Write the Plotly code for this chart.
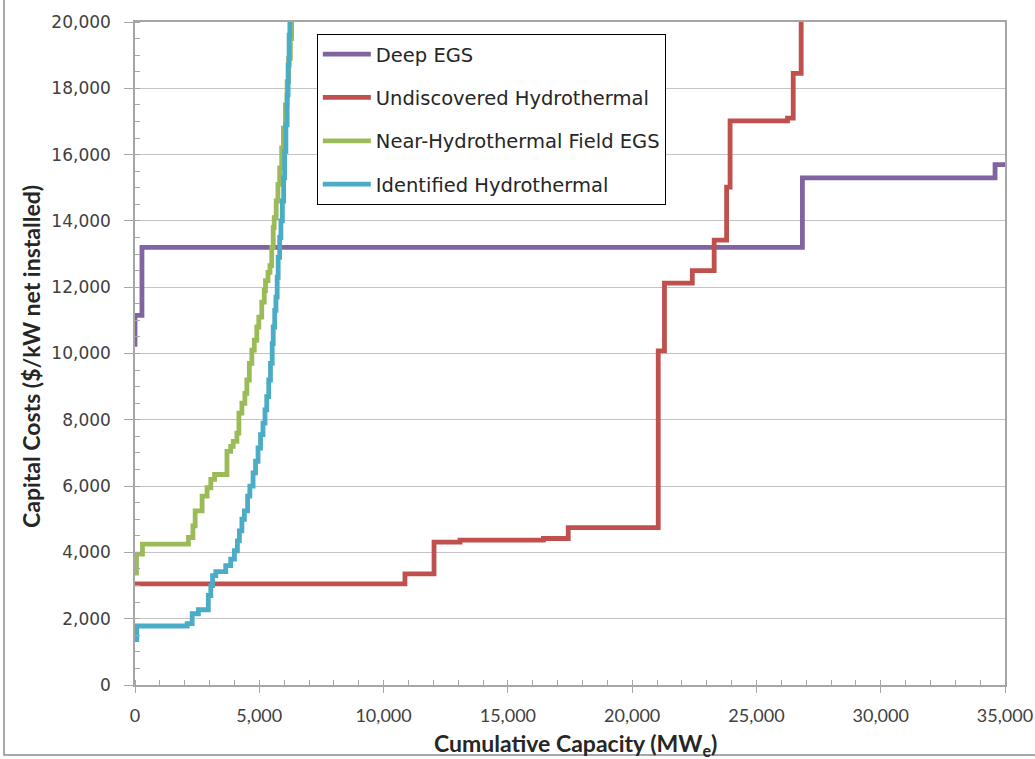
import plotly.graph_objects as go

# Supply curves: cumulative capacity (MWe) at which each cost step (USD/kW) begins
deep_egs_mw = [0, 0, 280, 26850, 34600, 35000]
deep_egs_cost = [10200, 11150, 13200, 15300, 15700, 15700]

undiscovered_mw = [0, 10860, 12030, 13075, 16430, 17430, 21050, 21300, 22420, 23300,
                   23800, 23940, 26250, 26480, 26800]
undiscovered_cost = [3050, 3350, 4310, 4370, 4420, 4750, 10080, 12120, 12500, 13420,
                     15020, 17020, 17100, 18450, 21000]

near_field_mw = [60, 60, 300, 2150, 2330, 2420, 2700, 2900, 3050, 3200, 3700, 3850,
                 3950, 4100, 4180, 4300, 4420, 4500, 4600, 4700, 4800, 4900, 4980,
                 5100, 5200, 5250, 5350, 5430, 5500, 5560, 5600, 5680, 5750, 5820,
                 5900, 5970, 6050, 6120, 6180, 6250, 6300]
near_field_cost = [3300, 3950, 4250, 4450, 4800, 5250, 5700, 5950, 6200, 6350, 7050,
                   7200, 7350, 7600, 8200, 8500, 8800, 9200, 9700, 10100, 10400, 10800,
                   11100, 11550, 11900, 12200, 12450, 12650, 13200, 13800, 14100, 14600,
                   15100, 15600, 16200, 16800, 17500, 18200, 18900, 19500, 20500]

identified_mw = [70, 70, 2100, 2300, 2550, 2950, 3050, 3120, 3250, 3650, 3850, 4000,
                 4120, 4200, 4300, 4400, 4530, 4620, 4750, 4850, 4950, 5050, 5150,
                 5230, 5300, 5380, 5450, 5520, 5560, 5620, 5670, 5720, 5760, 5820,
                 5870, 5930, 5980, 6020, 6070, 6120, 6160, 6200, 6230]
identified_cost = [1300, 1780, 1850, 2150, 2270, 2700, 3000, 3300, 3420, 3600, 3800,
                   4050, 4350, 4650, 5000, 5250, 5700, 6000, 6400, 6750, 7150, 7550,
                   7900, 8300, 8700, 9200, 9700, 10300, 10800, 11300, 11700, 12300,
                   12900, 13500, 14000, 14600, 15300, 16100, 16900, 17800, 18700,
                   19600, 20500]

x_tick_vals = [0, 5000, 10000, 15000, 20000, 25000, 30000, 35000]
x_tick_text = ["0", "5,000", "10,000", "15,000", "20,000", "25,000", "30,000", "35,000"]

series = [
    ("Deep EGS", deep_egs_mw, deep_egs_cost, "#8064A2"),
    ("Undiscovered Hydrothermal", undiscovered_mw, undiscovered_cost, "#C0504D"),
    ("Near-Hydrothermal Field EGS", near_field_mw, near_field_cost, "#9BBB59"),
    ("Identified Hydrothermal", identified_mw, identified_cost, "#4BACC6"),
]

fig = go.Figure()
for name, xs, ys, color in series:
    fig.add_trace(go.Scatter(
        x=xs, y=ys, name=name, mode="lines",
        line=dict(color=color, width=4.8, shape="hv"),
        legendgroup=name,
    ))

grid = "#C4C4C4"
axis_line = "#A6A6A6"
tick_font = dict(family="DejaVu Sans, Verdana, sans-serif", size=17, color="#404040")
narrow_font = dict(family="Liberation Sans Narrow, Lato, sans-serif", size=18, color="#404040")
title_font = dict(family="Liberation Sans Narrow, Lato, sans-serif", size=23, color="#262626")

fig.update_layout(
    width=1035, height=759,
    margin=dict(l=135, r=30, t=22, b=74, autoexpand=False),
    paper_bgcolor="white", plot_bgcolor="white",
    showlegend=True,
    legend=dict(
        x=0.209, y=0.982, xanchor="left", yanchor="top",
        bgcolor="white", bordercolor="#000000", borderwidth=1,
        font=dict(family="DejaVu Sans, Verdana, sans-serif", size=19.5, color="#262626"),
        tracegroupgap=15, itemwidth=48,
        entrywidth=370, entrywidthmode="pixels",
    ),
    xaxis=dict(
        range=[0, 35000], tickvals=x_tick_vals, ticktext=x_tick_text,
        automargin=False,
        showgrid=False, zeroline=False,
        showline=True, linecolor=axis_line, linewidth=1.5, mirror=True,
        ticks="outside", ticklen=6, tickcolor=axis_line, ticklabelstandoff=8,
        minor=dict(dtick=1000, ticks="inside", ticklen=5, tickcolor=axis_line, showgrid=False),
        tickfont=narrow_font,
    ),
    yaxis=dict(
        range=[0, 20000], dtick=2000, tickformat=",d",
        automargin=False,
        showgrid=True, gridcolor=grid, gridwidth=1.3, zeroline=False,
        showline=True, linecolor=axis_line, linewidth=1.5, mirror=True,
        ticks="outside", ticklen=9, tickcolor=axis_line, ticklabelstandoff=10,
        minor=dict(dtick=500, ticks="inside", ticklen=5, tickcolor=axis_line, showgrid=False),
        tickfont=tick_font,
    ),
    annotations=[
        dict(text="<b>Capital Costs ($/kW net installed)</b>", textangle=-90,
             xref="paper", yref="paper", x=(31 - 135) / 870, y=(685 - 357) / 663,
             xanchor="center", yanchor="middle", showarrow=False, font=title_font),
        dict(text="<b>Cumulative Capacity (MW<sub>e</sub>)</b>",
             xref="paper", yref="paper", x=(575 - 135) / 870, y=-(745 - 685) / 663,
             xanchor="center", yanchor="middle", showarrow=False, font=title_font),
    ],
    shapes=[
        dict(type="rect", xref="paper", yref="paper",
             x0=(4 - 135) / 870, x1=1.2,
             y0=-(755 - 685) / 663, y1=1.1,
             line=dict(color="#8C8C8C", width=1.5), fillcolor="rgba(0,0,0,0)", layer="below"),
    ],
)

fig.write_html("out.html")
